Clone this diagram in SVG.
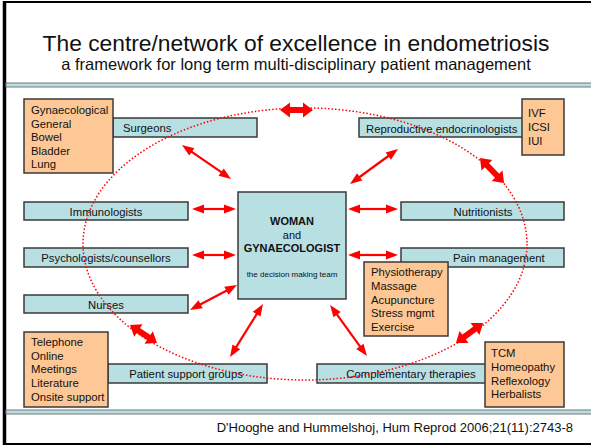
<svg xmlns="http://www.w3.org/2000/svg" width="591" height="445" viewBox="0 0 591 445">
<style>
text{font-family:"Liberation Sans",Arial,sans-serif;fill:#111}
.box{fill:#b8dfe2;stroke:#3a3a3a;stroke-width:1.5}
.obox{fill:#fdc896;stroke:#3a3a3a;stroke-width:1.5}
.lbl{font-size:11.3px}
.mid{text-anchor:middle}
.thin{stroke:#ff0000;stroke-width:2.2;fill:none;marker-start:url(#hs);marker-end:url(#hs)}
.thick{stroke:#ff0000;stroke-width:6;fill:none;marker-start:url(#hb);marker-end:url(#hb)}
</style>
<defs>
<marker id="hs" markerUnits="userSpaceOnUse" markerWidth="14" markerHeight="12" viewBox="-2 -6 14 12" refX="0" refY="0" orient="auto-start-reverse"><path d="M-1,-4.5 L11,0 L-1,4.5 z" fill="#ff0000"/></marker>
<marker id="hb" markerUnits="userSpaceOnUse" markerWidth="12" markerHeight="18" viewBox="-2 -9 12 18" refX="0" refY="0" orient="auto-start-reverse"><path d="M-1,-7.5 L9,0 L-1,7.5 z" fill="#ff0000"/></marker>
</defs>
<rect x="0" y="0" width="591" height="445" fill="#ffffff"/>
<g id="frame">
<line x1="4.5" y1="1" x2="4.5" y2="445" stroke="#000" stroke-width="3.5"/>
<line x1="3" y1="2" x2="591" y2="2" stroke="#000" stroke-width="2"/>
<line x1="3" y1="444" x2="591" y2="444" stroke="#000" stroke-width="2"/>
<rect x="6" y="83" width="590" height="4" fill="#b8dfe2" stroke="#777" stroke-width="1"/>
<rect x="6" y="410" width="590" height="4" fill="#b8dfe2" stroke="#777" stroke-width="1"/>
</g>
<g id="title">
<text x="296" y="51" class="mid" font-size="22.8px">The centre/network of excellence in endometriosis</text>
<text x="296" y="70" class="mid" font-size="16.5px">a framework for long term multi-disciplinary patient management</text>
</g>
<g id="surgeons"><rect class="box" x="113" y="118" width="144" height="19"/><text class="lbl" x="123" y="132">Surgeons</text></g>
<g id="surgery-types"><rect class="obox" x="24" y="99" width="89" height="74"/>
<text class="lbl" x="31" y="114">Gynaecological</text><text class="lbl" x="31" y="127.5">General</text><text class="lbl" x="31" y="141">Bowel</text><text class="lbl" x="31" y="154.5">Bladder</text><text class="lbl" x="31" y="168">Lung</text></g>
<g id="repro"><rect class="box" x="359" y="118" width="164" height="19"/><text class="lbl" x="366" y="132.5">Reproductive endocrinologists</text></g>
<g id="ivf"><rect class="obox" x="522" y="99" width="42" height="56"/>
<text class="lbl" x="528" y="117">IVF</text><text class="lbl" x="528" y="131">ICSI</text><text class="lbl" x="528" y="145">IUI</text></g>
<g id="immuno"><rect class="box" x="24" y="202" width="164" height="18"/><text class="lbl mid" x="106" y="215.5">Immunologists</text></g>
<g id="psych"><rect class="box" x="24" y="248" width="164" height="19"/><text class="lbl mid" x="106" y="261.5">Psychologists/counsellors</text></g>
<g id="nurses"><rect class="box" x="24" y="295" width="164" height="18"/><text class="lbl mid" x="106" y="308.5">Nurses</text></g>
<g id="centre"><rect class="box" x="238" y="192" width="108" height="107"/>
<text x="292" y="225" class="mid" font-size="11px" font-weight="bold">WOMAN</text>
<text x="292" y="239" class="mid" font-size="11px">and</text>
<text x="292" y="252" class="mid" font-size="11px" font-weight="bold">GYNAECOLOGIST</text>
<text x="292" y="277" class="mid" font-size="8px">the decision making team</text></g>
<g id="nutri"><rect class="box" x="401" y="202" width="163" height="18"/><text class="lbl mid" x="483" y="215.5">Nutritionists</text></g>
<g id="pain"><rect class="box" x="401" y="248" width="163" height="19"/><text class="lbl" x="453" y="261.5">Pain management</text></g>
<g id="pain-types"><rect class="obox" x="364" y="262" width="84" height="74"/>
<text class="lbl" x="371" y="276">Physiotherapy</text><text class="lbl" x="371" y="290">Massage</text><text class="lbl" x="371" y="303.5">Acupuncture</text><text class="lbl" x="371" y="317">Stress mgmt</text><text class="lbl" x="371" y="331">Exercise</text></g>
<g id="support"><rect class="box" x="108" y="364" width="159" height="19"/><text class="lbl mid" x="186" y="378">Patient support groups</text></g>
<g id="support-types"><rect class="obox" x="24" y="332" width="84" height="75"/>
<text class="lbl" x="31" y="346">Telephone</text><text class="lbl" x="31" y="359.5">Online</text><text class="lbl" x="31" y="373">Meetings</text><text class="lbl" x="31" y="387">Literature</text><text class="lbl" x="31" y="401">Onsite support</text></g>
<g id="comp"><rect class="box" x="317" y="364" width="169" height="19"/><text class="lbl mid" x="411" y="378">Complementary therapies</text></g>
<g id="comp-types"><rect class="obox" x="485" y="342" width="79" height="65"/>
<text class="lbl" x="491" y="357">TCM</text><text class="lbl" x="491" y="371">Homeopathy</text><text class="lbl" x="491" y="384.5">Reflexology</text><text class="lbl" x="491" y="398">Herbalists</text></g>
<g id="network"><ellipse cx="305" cy="244" rx="222" ry="136" fill="none" stroke="#ff0000" stroke-width="1.5" stroke-dasharray="1.5 2"/></g>
<g id="connectors">
<line class="thick" x1="289" y1="110" x2="304" y2="110"/>
<line class="thin" x1="191" y1="151.3" x2="222" y2="172.7"/>
<line class="thin" x1="389.1" y1="155.5" x2="358.9" y2="177.5"/>
<line class="thick" x1="486.2" y1="164.5" x2="497.8" y2="176.5"/>
<line class="thin" x1="203" y1="209" x2="225" y2="209"/>
<line class="thin" x1="203" y1="255" x2="225" y2="255"/>
<line class="thin" x1="199.7" y1="304.8" x2="227.3" y2="290.2"/>
<line class="thin" x1="359" y1="209" x2="387" y2="209"/>
<line class="thin" x1="359" y1="255" x2="387" y2="255"/>
<line class="thin" x1="257.2" y1="313.3" x2="235.8" y2="347.7"/>
<line class="thick" x1="137.5" y1="330" x2="149.5" y2="338"/>
<line class="thin" x1="336.5" y1="313.9" x2="360.5" y2="347.1"/>
<line class="thick" x1="463.2" y1="337.6" x2="475.8" y2="328.4"/>
</g>
<g id="footer"><text x="573" y="432" font-size="13px" text-anchor="end">D'Hooghe and Hummelshoj, Hum Reprod 2006;21(11):2743-8</text></g>
</svg>
